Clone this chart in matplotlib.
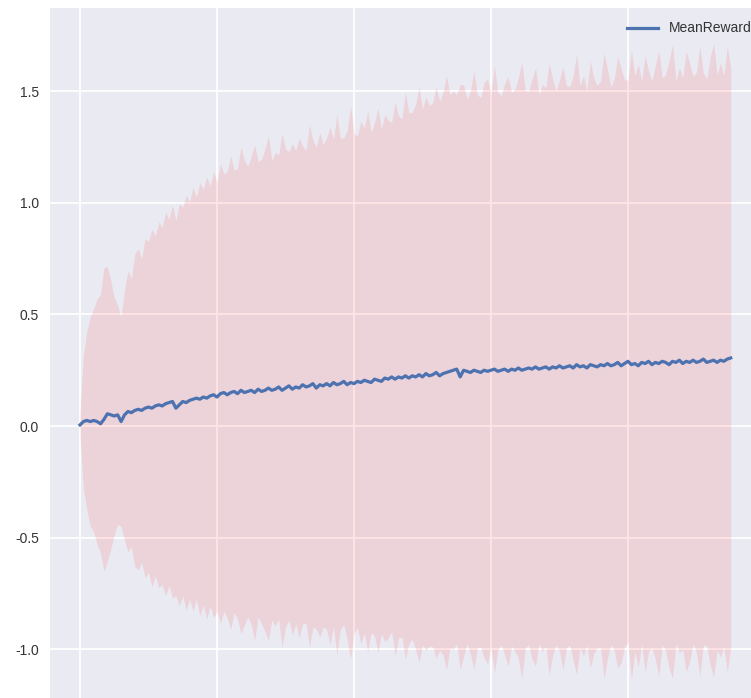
import numpy as np
import matplotlib
matplotlib.use("Agg")
import matplotlib.pyplot as plt

# ---- data ----
episodes = np.arange(0, 9501, 50)

mean_reward = [
    0.005, 0.02, 0.025, 0.02, 0.025, 0.02, 0.01, 0.03, 0.055, 0.05,
    0.045, 0.05, 0.02, 0.05, 0.065, 0.06, 0.07, 0.075, 0.07, 0.08,
    0.085, 0.08, 0.09, 0.095, 0.09, 0.10, 0.105, 0.11, 0.08, 0.095,
    0.11, 0.105, 0.115, 0.12, 0.125, 0.12, 0.13, 0.125, 0.135, 0.14,
    0.13, 0.145, 0.15, 0.14, 0.15, 0.155, 0.145, 0.16, 0.15, 0.155,
    0.16, 0.15, 0.165, 0.155, 0.16, 0.17, 0.16, 0.165, 0.175, 0.16,
    0.17, 0.18, 0.165, 0.175, 0.17, 0.185, 0.175, 0.18, 0.19, 0.17,
    0.185, 0.18, 0.19, 0.18, 0.195, 0.185, 0.19, 0.20, 0.185, 0.195,
    0.19, 0.20, 0.195, 0.205, 0.20, 0.195, 0.21, 0.205, 0.20, 0.215,
    0.21, 0.22, 0.21, 0.22, 0.215, 0.225, 0.215, 0.225, 0.22, 0.23,
    0.22, 0.235, 0.225, 0.23, 0.24, 0.225, 0.235, 0.24, 0.245, 0.25,
    0.255, 0.22, 0.25, 0.245, 0.24, 0.25, 0.245, 0.24, 0.25, 0.245,
    0.25, 0.255, 0.245, 0.25, 0.255, 0.245, 0.255, 0.25, 0.26, 0.25,
    0.255, 0.26, 0.255, 0.265, 0.255, 0.26, 0.265, 0.255, 0.265, 0.26,
    0.27, 0.26, 0.265, 0.27, 0.26, 0.275, 0.265, 0.27, 0.26, 0.275,
    0.27, 0.265, 0.275, 0.27, 0.28, 0.27, 0.275, 0.285, 0.27, 0.28,
    0.29, 0.275, 0.28, 0.27, 0.285, 0.28, 0.29, 0.275, 0.285, 0.28,
    0.29, 0.285, 0.275, 0.29, 0.285, 0.295, 0.28, 0.29, 0.285, 0.295,
    0.285, 0.29, 0.30, 0.285, 0.29, 0.295, 0.285, 0.295, 0.29, 0.30,
    0.305,
]

std_reward = [
    0.05, 0.30, 0.40, 0.47, 0.50, 0.55, 0.58, 0.68, 0.66, 0.60,
    0.53, 0.49, 0.47, 0.56, 0.63, 0.60, 0.70, 0.72, 0.68, 0.76,
    0.74, 0.80, 0.76, 0.82, 0.80, 0.86, 0.82, 0.88, 0.84, 0.90,
    0.87, 0.93, 0.89, 0.95, 0.90, 0.97, 0.93, 0.99, 0.94, 1.00,
    0.96, 1.03, 0.98, 1.00, 1.06, 0.99, 1.01, 1.09, 1.04, 1.01,
    1.05, 1.11, 1.02, 1.04, 1.08, 1.13, 1.03, 1.06, 1.04, 1.15,
    1.07, 1.05, 1.10, 1.06, 1.12, 1.07, 1.06, 1.17, 1.09, 1.08,
    1.13, 1.08, 1.10, 1.16, 1.09, 1.21, 1.10, 1.09, 1.14, 1.24,
    1.12, 1.10, 1.17, 1.13, 1.21, 1.12, 1.15, 1.22, 1.13, 1.18,
    1.16, 1.14, 1.24, 1.17, 1.16, 1.27, 1.19, 1.18, 1.22, 1.29,
    1.20, 1.24, 1.21, 1.22, 1.28, 1.23, 1.26, 1.33, 1.24, 1.25,
    1.23, 1.31, 1.28, 1.22, 1.26, 1.34, 1.24, 1.23, 1.29, 1.31,
    1.24, 1.36, 1.25, 1.23, 1.28, 1.32, 1.24, 1.26, 1.30, 1.38,
    1.25, 1.24, 1.30, 1.34, 1.23, 1.27, 1.25, 1.37, 1.29, 1.24,
    1.28, 1.35, 1.26, 1.25, 1.31, 1.39, 1.26, 1.30, 1.24, 1.36,
    1.29, 1.26, 1.27, 1.40, 1.32, 1.25, 1.28, 1.37, 1.33, 1.27,
    1.26, 1.41, 1.29, 1.35, 1.26, 1.38, 1.30, 1.27, 1.33, 1.40,
    1.27, 1.29, 1.36, 1.42, 1.26, 1.31, 1.28, 1.39, 1.34, 1.27,
    1.30, 1.41, 1.28, 1.27, 1.36, 1.42, 1.29, 1.33, 1.28, 1.40,
    1.30,
]

y_ticks = [-1.0, -0.5, 0.0, 0.5, 1.0, 1.5]
x_ticks = [0, 2000, 4000, 6000, 8000, 10000]
legend_label = "MeanReward"

# ---- figure ----
W, H = 751, 698
fig = plt.figure(figsize=(W / 100, H / 100), dpi=100)
fig.patch.set_facecolor("white")

ax_left, ax_right, ax_top, ax_bottom = 50, 766, 8, 703
ax = fig.add_axes([ax_left / W, 1 - ax_bottom / H,
                   (ax_right - ax_left) / W, (ax_bottom - ax_top) / H])
ax.set_facecolor("#EAEAF2")
for s in ax.spines.values():
    s.set_visible(False)
ax.grid(True, color="white", linewidth=1.3)
ax.set_axisbelow(True)

m = np.array(mean_reward)
sd = np.array(std_reward)
ax.fill_between(episodes, m - sd, m + sd, color="red", alpha=0.1,
                linewidth=0, zorder=2)
ax.plot(episodes, m, color="#4C72B0", linewidth=2.3, label=legend_label,
        zorder=3)

ax.set_xlim(-438, 10015)
ax.set_ylim(-1.241, 1.873)
ax.set_xticks(x_ticks)
ax.set_xticklabels([])
ax.set_yticks(y_ticks)
ax.set_yticklabels([f"{v:.1f}" for v in y_ticks])
ax.tick_params(axis="both", length=0, pad=8, labelsize=10,
               labelcolor="#333333")
for lab in ax.get_yticklabels():
    lab.set_fontfamily("Liberation Sans")

leg = ax.legend(loc="upper right", bbox_to_anchor=(764 / W, 1 - 9 / H),
                bbox_transform=fig.transFigure, frameon=False,
                prop={"family": "Liberation Sans", "size": 10},
                handlelength=2.2, handletextpad=0.8)
for t in leg.get_texts():
    t.set_color("#333333")

fig.savefig("out.png", dpi=100)
